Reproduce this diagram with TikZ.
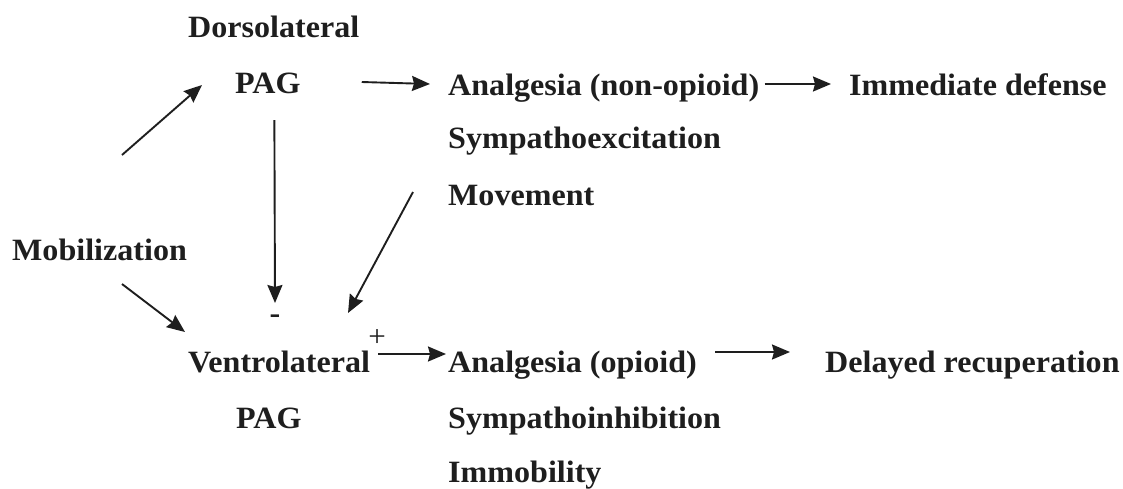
\documentclass[tikz,border=0pt]{standalone}
\usepackage{fontspec}
\setmainfont{Liberation Serif}[FakeStretch=1.035]
\usetikzlibrary{arrows.meta,calc}
\definecolor{ink}{HTML}{1E1E1E}
\begin{document}
\begin{tikzpicture}[x=1pt,y=-1pt,
  lbl/.style={font=\fontsize{31}{36}\selectfont\bfseries, inner sep=0pt, anchor=base west, text=ink},
  arr/.style={line width=1.9pt, draw=ink, -{Stealth[length=18pt,width=15pt,inset=2pt]}},
  plussign/.style={font=\fontsize{30}{34}\selectfont, inner sep=0pt, text=ink}]
\useasboundingbox (0,0) rectangle (1123,488);
\node[lbl] (dl) at (188,37) {Dorsolateral};
\node[lbl] (pag1) at (235,93) {PAG};
\node[lbl] (an1) at (448,95) {Analgesia (non-opioid)};
\node[lbl] (imm) at (849,95) {Immediate defense};
\node[lbl] (sx) at (448,148) {Sympathoexcitation};
\node[lbl] (mov) at (448,205) {Movement};
\node[lbl] (mob) at (12,260) {Mobilization};
\node[lbl] (vl) at (188,372) {Ventrolateral};
\node[lbl] (pag2) at (236,428) {PAG};
\node[lbl] (an2) at (448,372) {Analgesia (opioid)};
\node[lbl] (del) at (825,372) {Delayed recuperation};
\node[lbl] (si) at (448,428) {Sympathoinhibition};
\node[lbl] (ib) at (448,482) {Immobility};
\node[lbl, anchor=base] (minus) at (275,323) {-};
\node[plussign] (plus) at (377,338) {+};
% Mobilization -> dorsolateral / ventrolateral
\draw[arr] ($(mob.base west)+(110,-105)$) -- ($(pag1.base west)+(-33,-8)$);
\draw[arr] ($(mob.base west)+(110,24)$) -- ($(vl.base west)+(-3,-40)$);
% dorsolateral PAG inhibits ventrolateral
\draw[arr] ($(pag1.base)+(6.5,27)$) -- ($(minus.base)+(0,-20)$);
% movement feeds ventrolateral
\draw[arr] ($(mov.base west)+(-35,-13)$) -- ($(plus.center)+(-29,-25)$);
% row arrows
\draw[arr] ([xshift=61pt,yshift=11pt]pag1.base east) -- ([xshift=-18pt,yshift=11pt]an1.base west);
\draw[arr] ([xshift=5pt,yshift=11pt]an1.base east) -- ([xshift=-18pt,yshift=11pt]imm.base west);
\draw[arr] ([xshift=8pt,yshift=18pt]vl.base east) -- ([xshift=-2pt,yshift=18pt]an2.base west);
\draw[arr] ([xshift=18pt,yshift=20pt]an2.base east) -- ([xshift=-35pt,yshift=20pt]del.base west);
\end{tikzpicture}
\end{document}
